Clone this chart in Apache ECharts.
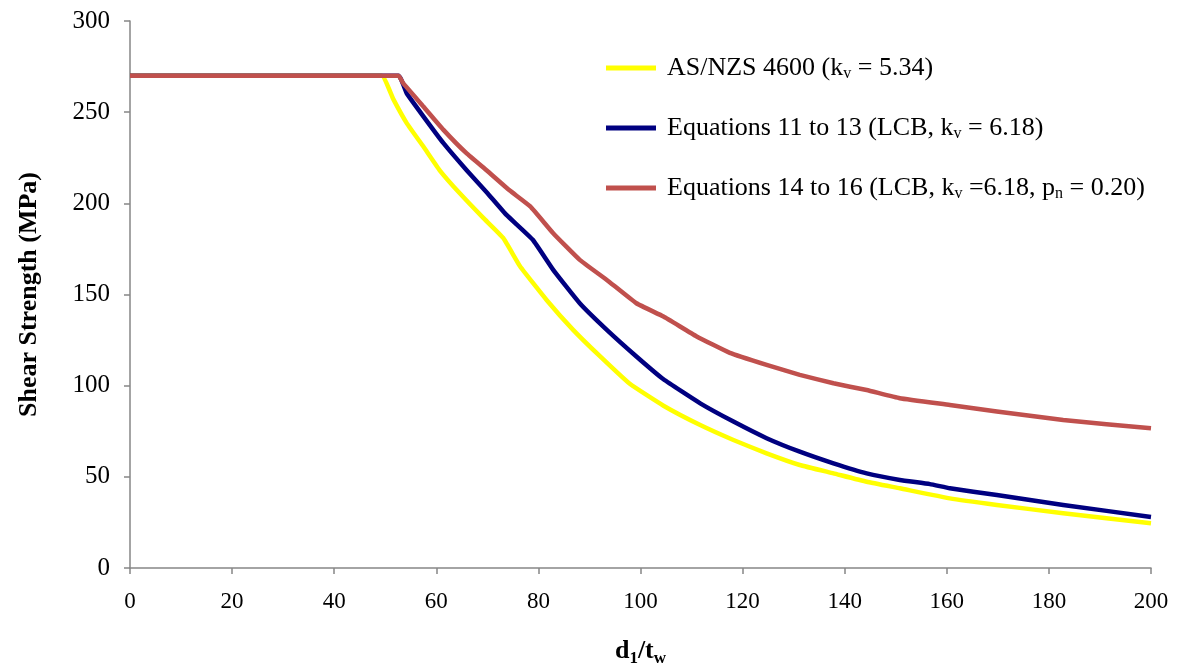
<!DOCTYPE html>
<html>
<head>
<meta charset="utf-8">
<script src="https://cdn.jsdelivr.net/npm/echarts@6/dist/echarts.min.js"></script>
<style>html,body{margin:0;padding:0;background:#fff;}#c{width:1182px;height:666px;}</style>
</head>
<body>
<div id="c"></div>
<script>
// d1/tw values and shear strengths (MPa)
const asnzsX = [0, 20, 40, 49.3, 51.6, 54.2, 57.5, 60.7, 64.6, 69.2, 73.1, 76.4, 81.6, 86.8, 92.1, 97.9, 104.5, 111.7, 118.2, 124.7, 131.2, 137.8, 144.3, 150.8, 160.6, 169.8, 182.8, 200];
const asnzsY = [270, 270, 270, 270, 257, 244, 231, 218, 205.5, 192, 181, 165.5, 147, 130.6, 116, 101, 89, 78.4, 70.2, 62.9, 56.5, 51.9, 47.3, 43.7, 38.2, 34.6, 30, 24.5];

const eq1113X = [0, 20, 40, 52.6, 54.2, 57.5, 61.4, 65.9, 69.9, 73.8, 78.9, 82.9, 88.1, 93.4, 99.2, 104.5, 111.7, 118.2, 124.7, 131.2, 137.8, 144.3, 150.8, 156.7, 160.6, 169.8, 182.8, 200];
const eq1113Y = [270, 270, 270, 270, 260.4, 247.6, 233, 218.3, 206, 193.5, 180, 163.5, 145.2, 130.6, 116, 103.5, 90.3, 80.3, 71.2, 63.8, 57.4, 51.9, 48.3, 46, 43.7, 40, 34.6, 28];

const eq1416X = [0, 20, 40, 52.6, 53.5, 57.5, 61.4, 65.9, 69.9, 74.4, 78.4, 82.9, 88.1, 93.4, 99.2, 104.5, 111, 117.5, 124.7, 131.2, 137.8, 144.3, 150.8, 160.6, 169.8, 182.8, 200];
const eq1416Y = [270, 270, 270, 270, 265.9, 253, 240.3, 227.5, 218, 207, 198.3, 183.6, 169, 158, 145.2, 137.9, 127, 118, 111.4, 105.9, 101.3, 97.6, 93.1, 89.4, 85.8, 81.2, 76.6];

const xTicks = [0, 20, 40, 60, 80, 100, 120, 140, 160, 180, 200];
const yTicks = [0, 50, 100, 150, 200, 250, 300];

const seriesNames = ['AS/NZS 4600', 'Equations 11 to 13', 'Equations 14 to 16'];

function pairs(xs, ys) { return xs.map((x, i) => [x, ys[i]]); }

const FONT = '"Liberation Serif", "Times New Roman", serif';
const chart = echarts.init(document.getElementById('c'), null, { renderer: 'canvas' });

const legendLabels = {
  'AS/NZS 4600': 'AS/NZS 4600 (k{sub|v} = 5.34)',
  'Equations 11 to 13': 'Equations 11 to 13 (LCB, k{sub|v} = 6.18)',
  'Equations 14 to 16': 'Equations 14 to 16 (LCB, k{sub|v} =6.18, p{sub|n} = 0.20)'
};

chart.setOption({
  animation: false,
  backgroundColor: '#ffffff',
  grid: { left: 130, right: 31, top: 21, bottom: 98, containLabel: false, outerBoundsMode: 'none' },
  legend: {
    orient: 'vertical',
    left: 601,
    top: 48,
    itemWidth: 50,
    itemHeight: 5,
    itemGap: 30,
    icon: 'rect',
    data: seriesNames,
    formatter: n => legendLabels[n],
    textStyle: {
      fontFamily: FONT, fontSize: 26, color: '#000', lineHeight: 30, padding: [0, 0, 0, 6],
      rich: { sub: { fontFamily: FONT, fontSize: 16, color: '#000', lineHeight: 30, padding: [12, 0, 0, 0] } }
    }
  },
  xAxis: {
    type: 'value', min: 0, max: 200, interval: 20,
    name: 'd{sub|1}/t{sub|w}', nameLocation: 'middle', nameGap: 68,
    nameTextStyle: {
      fontFamily: FONT, fontSize: 26, fontWeight: 'bold', color: '#000',
      rich: { sub: { fontFamily: FONT, fontSize: 17, fontWeight: 'bold', color: '#000', padding: [14, 0, 0, 0] } }
    },
    axisLine: { show: true, lineStyle: { color: '#868686', width: 1.5 } },
    axisTick: { show: true, length: 6, lineStyle: { color: '#868686', width: 1.5 } },
    axisLabel: { fontFamily: FONT, fontSize: 23, color: '#000', margin: 22,
      formatter: v => xTicks.includes(v) ? String(v) : '' },
    splitLine: { show: false }
  },
  yAxis: {
    type: 'value', min: 0, max: 300, interval: 50,
    name: 'Shear Strength (MPa)', nameLocation: 'middle', nameGap: 88, nameRotate: 90,
    nameTextStyle: { fontFamily: FONT, fontSize: 26, fontWeight: 'bold', color: '#000' },
    axisLine: { show: true, lineStyle: { color: '#868686', width: 1.5 } },
    axisTick: { show: true, length: 6, lineStyle: { color: '#868686', width: 1.5 } },
    axisLabel: { fontFamily: FONT, fontSize: 25, color: '#000', margin: 20,
      formatter: v => yTicks.includes(v) ? String(v) : '' },
    splitLine: { show: false }
  },
  series: [
    { name: seriesNames[0], type: 'line', data: pairs(asnzsX, asnzsY), smooth: 0.12, showSymbol: false,
      lineStyle: { color: '#FFFF00', width: 4.5, join: 'round' }, itemStyle: { color: '#FFFF00' }, z: 2 },
    { name: seriesNames[1], type: 'line', data: pairs(eq1113X, eq1113Y), smooth: 0.12, showSymbol: false,
      lineStyle: { color: '#000080', width: 4.5, join: 'round' }, itemStyle: { color: '#000080' }, z: 3 },
    { name: seriesNames[2], type: 'line', data: pairs(eq1416X, eq1416Y), smooth: 0.12, showSymbol: false,
      lineStyle: { color: '#C0504D', width: 4.5, join: 'round' }, itemStyle: { color: '#C0504D' }, z: 4 }
  ]
});
</script>
</body>
</html>
